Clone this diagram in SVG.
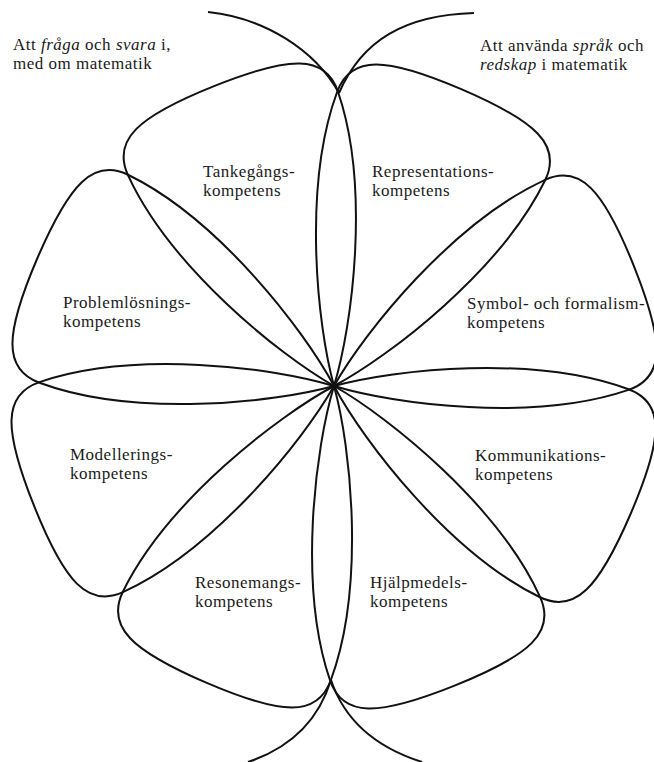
<svg xmlns="http://www.w3.org/2000/svg" width="654" height="762" viewBox="0 0 654 762">
<defs>
<path id="petal" d="M0,0 C50,40 172,108 272,113 C311,115 323,82 323,0 C323,-82 311,-115 272,-113 C172,-108 50,-40 0,0 Z"/>
</defs>
<style>
.pl{fill:none;stroke:#111;stroke-width:2}
.arc{fill:none;stroke:#111;stroke-width:2}
text{font-family:"Liberation Serif","Times New Roman",serif;font-size:17px;letter-spacing:0.5px;fill:#1a1a1a}
.i{font-style:italic}
</style>
<rect width="654" height="762" fill="#fff"/>
<g id="connectors">
<path class="arc" d="M208,12 C265,18 315,50 339,93"/>
<path class="arc" d="M339,93 C362,40 405,15 474,13"/>
<path class="arc" d="M331,680 C318,722 290,748 248,762"/>
<path class="arc" d="M331,680 C345,722 378,748 422,762"/>
</g>
<g id="area-left"><text x="13" y="50">Att <tspan class="i">fråga</tspan> och <tspan class="i">svara</tspan> i,</text><text x="13" y="69">med om matematik</text></g>
<g id="area-right"><text x="480" y="51">Att använda <tspan class="i">språk</tspan> och</text><text x="480" y="70"><tspan class="i">redskap</tspan> i matematik</text></g>
<g id="tankegangs"><use href="#petal" class="pl" transform="translate(334,386) rotate(-111.8)"/><text x="203" y="177">Tankegångs-</text><text x="203" y="196">kompetens</text></g>
<g id="representations"><use href="#petal" class="pl" transform="translate(334,386) rotate(-66.8)"/><text x="372" y="177">Representations-</text><text x="372" y="196">kompetens</text></g>
<g id="symbol"><use href="#petal" class="pl" transform="translate(334,386) rotate(-21.8)"/><text x="467" y="309">Symbol- och formalism-</text><text x="467" y="328">kompetens</text></g>
<g id="kommunikations"><use href="#petal" class="pl" transform="translate(334,386) rotate(23.2)"/><text x="475" y="461">Kommunikations-</text><text x="475" y="480">kompetens</text></g>
<g id="hjalpmedels"><use href="#petal" class="pl" transform="translate(334,386) rotate(68.2)"/><text x="370" y="588">Hjälpmedels-</text><text x="370" y="607">kompetens</text></g>
<g id="resonemangs"><use href="#petal" class="pl" transform="translate(334,386) rotate(113.2)"/><text x="195" y="588">Resonemangs-</text><text x="195" y="607">kompetens</text></g>
<g id="modellerings"><use href="#petal" class="pl" transform="translate(334,386) rotate(158.2)"/><text x="70" y="460">Modellerings-</text><text x="70" y="479">kompetens</text></g>
<g id="problemlosnings"><use href="#petal" class="pl" transform="translate(334,386) rotate(-156.8)"/><text x="63" y="308">Problemlösnings-</text><text x="63" y="327">kompetens</text></g>
</svg>
